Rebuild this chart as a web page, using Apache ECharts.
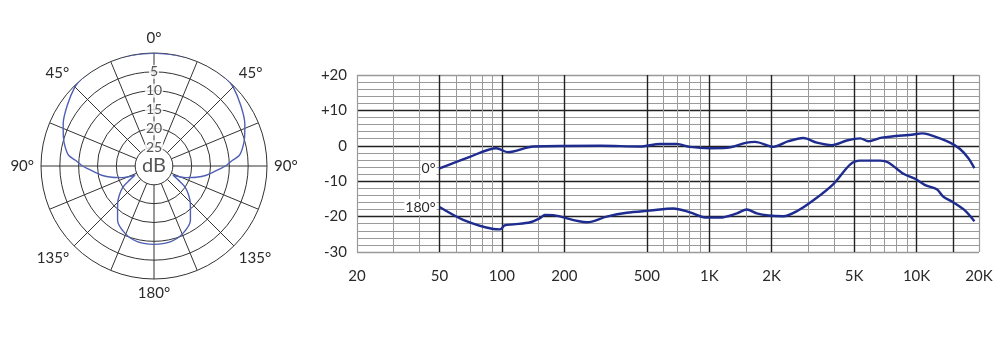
<!DOCTYPE html>
<html><head><meta charset="utf-8">
<script src="https://cdn.jsdelivr.net/npm/echarts@6/dist/echarts.min.js"></script>
<style>html,body{margin:0;padding:0;background:#fff}#c{width:1000px;height:358px}</style>
</head><body><div id="c"></div>
<script>
// ---------- Polar pattern (right half, 0..180 deg; mirrored for the left half) ----------
const polarAngles = [0,10,20,30,40,45,55,65,72,78,83,86,90,93,100,105,110,116,120,124,130,136,146,157,168,180];
const polarLevels = [0,0,0.3,0.4,0.1,-0.3,-1.9,-3.4,-4.7,-5.9,-7.2,-9.2,-11.0,-12.8,-15.9,-18.4,-21.0,-24.4,-22.5,-20.1,-18.0,-16.1,-12.7,-10.5,-9.4,-9.2];
const ringLevels = [-5,-10,-15,-20,-25];
const spokeAngles = [0,22.5,45,67.5,90,112.5,135,157.5,180,202.5,225,247.5,270,292.5,315,337.5];

// ---------- Frequency response ----------
const freq0 = [50,70,94,107,142,300,463,579,697,807,1009,1214,1517,1664,2037,2409,2845,3302,3900,4605,5340,5856,6796,9655,10600,11400,14500,16200,17780,19000];
const resp0 = [-6.4,-3.1,-0.7,-1.8,-0.2,0,-0.2,0.5,0.5,-0.3,-0.7,-0.6,0.9,1.1,-0.3,1.3,2.2,0.9,0.2,1.5,2.1,1.3,2.3,3.2,3.5,3.2,0.9,-0.9,-3.5,-6.3];
const freq180 = [50,65,91,98,103,114,137,153,161,177,257,320,400,518,671,807,973,1127,1358,1517,1695,1928,2278,2643,3178,3969,4776,5340,6670,7310,8640,9835,11000,12520,13470,15050,17140,19000];
const resp180 = [-17.3,-20.9,-23.5,-23.6,-22.5,-22.2,-21.6,-20.4,-19.5,-19.6,-21.6,-20.0,-18.9,-18.3,-17.7,-18.8,-20.3,-20.3,-19.1,-18.0,-19.1,-19.7,-19.9,-18.5,-15.4,-10.8,-5.3,-4.2,-4.2,-4.7,-7.9,-9.3,-11.1,-12.3,-14.4,-16.0,-18.3,-21.3];
const seriesNames = ['0°','180°'];

const tickFreqs = [20,50,100,200,500,1000,2000,5000,10000,20000];
const tickLabels = ['20','50','100','200','500','1K','2K','5K','10K','20K'];
const majorGridFreqs = [50,100,200,500,1000,2000,5000,10000,15000];
const minorGridFreqs = [30,40,60,70,80,90,150,600,700,800,900,1500,3000,4000,6000,7000,8000,9000];
const borderFreqs = [20,20000];

const FONT = 'Lato, "DejaVu Sans", sans-serif';
const TXT = '#2a2a2a';

// build polar loop
const polarData = [];
polarAngles.forEach((a,i)=>polarData.push([polarLevels[i], a]));
for (let i = polarAngles.length-2; i >= 0; i--) polarData.push([polarLevels[i], 360 - polarAngles[i]]);

const spokeSeries = spokeAngles.map(a => ({
  type:'line', coordinateSystem:'polar', data:[[-25,a],[0,a]],
  showSymbol:false, silent:true, z:1,
  lineStyle:{color:'#333', width:1}
}));

const option = {
  animation:false,
  backgroundColor:'#fff',
  textStyle:{fontFamily:FONT},
  polar:{center:[154,166], radius:[0,113]},
  angleAxis:{
    type:'value', min:0, max:360, interval:45, startAngle:90, clockwise:true,
    axisLine:{show:false}, axisTick:{show:false}, splitLine:{show:false},
    axisLabel:{margin:7, color:TXT, fontSize:15, fontFamily:FONT,
      formatter:v => v===360 ? '' : (v<=180 ? v : 360-v) + '°'}
  },
  radiusAxis:{
    type:'value', min:-30, max:0, interval:5,
    axisLine:{show:false}, axisTick:{show:false}, axisLabel:{show:false},
    splitLine:{show:true, lineStyle:{color:'#333', width:1}}
  },
  grid:{left:357, right:21, top:75, bottom:106},
  xAxis:{
    type:'log', logBase:10, min:20, max:20000,
    axisLine:{show:false}, axisTick:{show:false}, axisLabel:{show:false},
    splitLine:{show:false}, minorSplitLine:{show:false}
  },
  yAxis:{
    type:'value', min:-30, max:20, interval:10,
    axisLine:{show:false}, axisTick:{show:false},
    axisLabel:{margin:10, color:TXT, fontSize:15, fontFamily:FONT,
      formatter:v => v>0 ? '+'+v : ''+v},
    splitLine:{show:true, lineStyle:{color:['#999','#222','#222','#222','#222','#999'], width:1.4}},
    minorTick:{show:false, splitNumber:5},
    minorSplitLine:{show:true, lineStyle:{color:'#9a9a9a', width:1}}
  },
  series:[
    ...spokeSeries,
    {
      type:'line', coordinateSystem:'polar', data:polarData,
      showSymbol:false, smooth:0.3, clip:false, z:3,
      lineStyle:{color:'#4f5fb3', width:1.4}
    },
    {
      type:'scatter', coordinateSystem:'polar', z:6, silent:true,
      data:ringLevels.map(v=>[v,0]), symbolSize:0,
      label:{show:true, position:'inside', formatter:p=>String(Math.abs(p.value[0])),
        color:TXT, fontSize:14, fontFamily:FONT, backgroundColor:'#fff', padding:[0,1]}
    },
    {
      type:'scatter', coordinateSystem:'polar', z:6, silent:true,
      data:[[-30,0]], symbolSize:0,
      label:{show:true, position:'inside', formatter:'dB', color:TXT, fontSize:20, fontFamily:FONT}
    },
    // vertical grid
    {
      type:'line', xAxisIndex:0, yAxisIndex:0, data:[], silent:true, z:1,
      markLine:{
        silent:true, symbol:['none','none'], animation:false,
        label:{show:false},
        data:[
          ...minorGridFreqs.map(f=>({xAxis:f, lineStyle:{color:'#9a9a9a', width:1, type:'solid'}})),
          ...borderFreqs.map(f=>({xAxis:f, lineStyle:{color:'#9a9a9a', width:1.2, type:'solid'}})),
          ...majorGridFreqs.map(f=>({xAxis:f, lineStyle:{color:'#222', width:1.4, type:'solid'}}))
        ]
      }
    },
    // x tick labels
    {
      type:'line', xAxisIndex:0, yAxisIndex:0, data:[], silent:true, z:1,
      markLine:{
        silent:true, symbol:['none','none'], animation:false,
        lineStyle:{color:'rgba(0,0,0,0)', width:0},
        label:{show:true, position:'start', distance:17, color:TXT, fontSize:15, fontFamily:FONT},
        data:tickFreqs.map((f,i)=>({xAxis:f, label:{show:true, position:'start', distance:17,
          formatter:tickLabels[i], color:TXT, fontSize:15, fontFamily:FONT, opacity:1}}))
      }
    },
    {
      name:seriesNames[0], type:'line', data:freq0.map((f,i)=>[f,resp0[i]]),
      showSymbol:false, smooth:0.3, z:5,
      lineStyle:{color:'#1e2b8f', width:2.4},
      markPoint:{
        symbolSize:0, silent:true,
        data:[{coord:[freq0[0],resp0[0]], label:{show:true, position:'left', distance:3,
          formatter:seriesNames[0], color:TXT, fontSize:14, fontFamily:FONT, backgroundColor:'#fff', padding:[1,1]}}]
      }
    },
    {
      name:seriesNames[1], type:'line', data:freq180.map((f,i)=>[f,resp180[i]]),
      showSymbol:false, smooth:0.3, z:5,
      lineStyle:{color:'#1e2b8f', width:2.4},
      markPoint:{
        symbolSize:0, silent:true,
        data:[{coord:[freq180[0],resp180[0]], label:{show:true, position:'left', distance:3,
          formatter:seriesNames[1], color:TXT, fontSize:14, fontFamily:FONT, backgroundColor:'#fff', padding:[1,1]}}]
      }
    }
  ]
};
const chart = echarts.init(document.getElementById('c'));
chart.setOption(option);
</script>
</body></html>
